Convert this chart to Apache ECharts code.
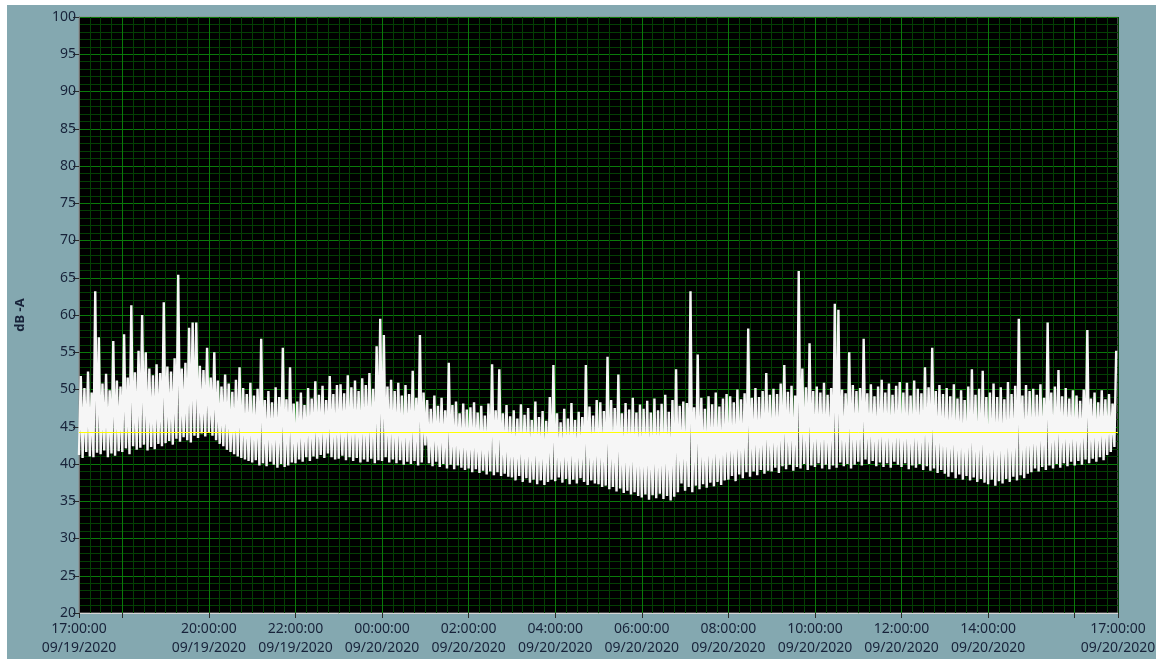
<!DOCTYPE html>
<html>
<head>
<meta charset="utf-8">
<title>dB-A</title>
<script src="https://cdn.jsdelivr.net/npm/echarts@6/dist/echarts.min.js"></script>
<style>
  html, body { margin: 0; padding: 0; background: #fff; }
  #chart { position: absolute; left: 7px; top: 5px; width: 1149px; height: 654px; }
</style>
</head>
<body>
<div id="chart"></div>
<script>
// 5 minute blocks from 17:00 09/19/2020, low and high reading of each block (dB-A)
const loDb = [
  41.2, 40.8, 41.6, 41.0, 40.9, 41.5, 41.3, 41.8, 40.9, 41.4, 41.1, 41.7,
  41.6, 42.1, 41.3, 42.4, 41.9, 42.2, 42.6, 41.8, 42.3, 42.0, 42.7, 42.4,
  42.8, 43.1, 42.6, 43.4, 43.0, 43.6, 43.2, 42.9, 43.8, 43.5, 44.1, 43.7,
  44.3, 43.8, 43.2, 42.7, 42.4, 41.9, 41.6, 41.3, 41.0, 40.8, 40.6, 40.4,
  40.2, 40.5, 39.8, 40.1, 39.7, 40.3, 39.9, 39.5, 40.0, 39.6, 39.8, 40.2,
  40.1, 40.6, 40.3, 40.9, 40.4, 41.0, 40.7, 41.2, 40.8, 41.4, 40.9, 40.6,
  40.7, 41.1, 40.5, 40.9, 40.4, 40.8, 40.2, 40.6, 40.3, 40.7, 40.1, 40.5,
  40.4, 40.9, 40.2, 40.6, 40.1, 40.5, 39.9, 40.3, 40.0, 40.4, 39.8, 40.2,
  42.5, 40.1, 39.7, 40.3, 39.6, 40.0, 39.4, 39.9, 39.3, 39.8, 39.5, 39.2,
  39.4, 38.9, 39.3, 38.8, 39.1, 38.6, 39.0, 38.5, 38.9, 38.4, 38.7, 38.3,
  38.2, 37.8, 38.4, 37.6, 38.1, 37.5, 37.9, 37.3, 37.8, 37.2, 37.6, 37.9,
  37.7, 38.2, 37.5, 38.0, 37.3, 37.9, 37.4, 38.1, 37.6, 37.2, 37.8, 37.4,
  37.3, 36.9, 37.1, 36.6, 36.9, 36.3, 36.7, 36.1, 36.4, 35.9, 36.2, 35.7,
  35.5, 35.9, 35.2, 35.8, 35.4, 36.0, 35.3, 35.7, 35.1, 35.6, 36.2, 37.4,
  36.4, 36.9, 36.2, 37.1, 36.6, 37.3, 36.8, 37.5, 37.0, 37.6, 37.2, 37.8,
  37.9, 38.4, 37.7, 38.6, 38.1, 38.9, 38.3, 39.0, 38.5, 39.2, 38.7, 39.1,
  39.0, 39.5, 38.8, 39.7, 39.3, 39.9, 39.1, 39.6, 39.4, 40.0, 39.2, 39.8,
  39.6, 40.1, 39.4, 39.9, 39.3, 39.8, 39.5, 40.2, 39.7, 40.0, 39.4, 39.9,
  40.3, 39.8, 40.6, 40.0, 40.4, 39.7, 40.2, 39.6, 40.1, 39.5, 40.3, 39.9,
  39.6, 40.1, 39.3, 39.8, 39.5, 40.0, 39.2, 39.7, 39.1, 39.4, 38.8, 39.2,
  38.7, 38.3, 38.9, 38.1, 38.6, 37.9, 38.4, 37.8, 38.2, 37.6, 38.0, 37.5,
  37.3, 37.9, 37.1, 37.7, 37.4, 38.0, 37.6, 38.3, 37.8, 38.5, 38.1, 38.7,
  38.9, 39.4, 39.0, 39.6, 39.2, 39.8, 39.4, 40.0, 39.5, 40.1, 39.7, 40.3,
  39.8, 40.4, 39.9, 40.6, 40.1, 40.7, 40.3, 40.9, 40.5, 41.2, 41.6, 42.3
]
const hiDb = [
  51.8, 50.2, 52.4, 49.6, 63.2, 57.0, 50.8, 52.1, 49.9, 56.5, 51.2, 50.4,
  57.4, 51.6, 61.3, 52.3, 55.2, 60.0, 55.0, 52.8, 51.9, 53.4, 52.2, 61.7,
  53.1, 52.4, 54.2, 65.4, 52.8, 53.6, 58.3, 59.0, 59.0, 53.2, 52.6, 55.6,
  51.6, 55.0, 51.2, 50.4, 52.0, 50.8, 49.7, 51.3, 53.0, 50.2, 49.4, 50.9,
  49.2, 50.1, 56.8, 48.6, 49.8, 48.3, 50.3, 49.0, 55.6, 48.7, 53.0, 48.1,
  48.4, 49.6, 47.9, 50.2, 48.8, 51.1, 49.3, 50.5, 48.6, 51.8, 49.4, 50.6,
  50.7, 49.5, 51.9, 50.3, 51.2, 49.8, 51.5, 50.6, 52.2, 50.1, 55.8, 59.5,
  57.3, 50.4, 51.3, 49.8, 50.9, 49.2, 50.6, 49.4, 52.5, 48.9, 57.3, 49.6,
  48.6, 47.4, 49.2, 47.8, 48.9, 47.2, 53.6, 47.9, 48.4, 46.8, 48.1, 47.3,
  47.6, 48.3, 46.9, 47.8, 46.5, 48.1, 53.4, 47.2, 52.7, 46.8, 47.9, 46.4,
  47.2, 46.1, 48.0, 46.6, 47.5, 45.9, 48.4, 46.3, 47.1, 45.8, 49.0, 53.3,
  46.8, 45.6, 47.4, 46.1, 48.2, 45.9, 47.0, 46.3, 53.3, 47.7, 46.5, 48.6,
  48.3, 47.1, 54.4, 48.6, 47.5, 52.0, 46.8, 48.2, 47.3, 48.9, 46.9, 48.0,
  47.4, 48.5, 46.9, 48.8, 47.2, 48.1, 49.3, 47.0, 48.6, 52.7, 47.8, 48.4,
  48.2, 63.2, 47.6, 54.7, 48.9, 47.4, 49.1, 48.0, 49.6, 47.7, 48.8, 49.4,
  49.1, 48.3, 50.0, 48.7, 49.5, 58.2, 48.9, 50.2, 49.0, 49.8, 52.2, 49.3,
  50.1, 49.4, 50.8, 53.3, 49.7, 50.5, 49.2, 65.9, 52.8, 50.3, 56.2, 49.8,
  50.4, 49.6, 50.9, 49.3, 50.2, 61.5, 60.7, 50.0, 49.5, 55.0, 50.6, 49.8,
  50.2, 56.8, 49.5, 50.7, 49.1, 50.4, 51.3, 49.6, 50.8, 49.3, 50.5, 51.0,
  49.6, 50.9, 49.2, 51.2, 50.1, 49.5, 53.0, 50.3, 55.6, 49.8, 50.6, 49.4,
  50.2, 49.1, 50.7, 48.8, 49.9, 48.6, 50.4, 52.7, 49.3, 50.1, 52.5, 49.0,
  49.6, 50.8, 49.0, 50.3, 48.7, 51.0, 49.4, 50.5, 59.5, 49.2, 50.6, 49.8,
  50.1, 49.3, 50.7, 48.9, 59.0, 49.6, 50.4, 52.6, 49.1, 50.2, 48.8, 49.9,
  49.2, 48.5, 50.0, 58.0, 48.8, 49.6, 48.3, 49.9, 48.7, 49.4, 48.1, 55.2
]
// yellow reference level
const avgDb = 44.2

// hourly ticks along the x axis, 17:00 -> 17:00
const xHours = [
  '17:00:00', '18:00:00', '19:00:00', '20:00:00', '21:00:00', '22:00:00', '23:00:00',
  '00:00:00', '01:00:00', '02:00:00', '03:00:00', '04:00:00', '05:00:00', '06:00:00',
  '07:00:00', '08:00:00', '09:00:00', '10:00:00', '11:00:00', '12:00:00', '13:00:00',
  '14:00:00', '15:00:00', '16:00:00', '17:00:00'
]
const xDays = ['09/19/2020', '09/20/2020']
const tickShown = [0, 1, 3, 5, 7, 9, 11, 13, 15, 17, 19, 21, 23, 24]
const labelShown = [0, 3, 5, 7, 9, 11, 13, 15, 17, 19, 21, 24]

const startMs = Date.UTC(2020, 8, 19, 17, 0, 0)
const endMs = Date.UTC(2020, 8, 20, 17, 0, 0)
const stepMs = 5 * 60 * 1000

const gridMinor = '#043f04'
const gridMajor = '#0a7a0a'
const textColor = '#18233a'

// low then high for each block, so the trace zig-zags like the raw samples
const trace = []
loDb.forEach((lo, i) => {
  trace.push([startMs + i * stepMs, lo])
  trace.push([startMs + i * stepMs + stepMs / 2, hiDb[i]])
})

const chart = echarts.init(document.getElementById('chart'))

chart.setOption({
  animation: false,
  backgroundColor: '#84a8b0',
  textStyle: { fontFamily: 'Noto Sans' },
  grid: {
    left: 72,
    top: 12,
    right: 38,
    bottom: 46,
    show: true,
    backgroundColor: '#000',
    borderColor: '#8c8c8c',
    borderWidth: 1,
    outerBoundsMode: 'none'
  },
  xAxis: [
    {
      // fine 15 min grid
      type: 'value',
      min: startMs,
      max: endMs,
      interval: 15 * 60 * 1000,
      axisLine: { show: false },
      axisTick: { show: false },
      axisLabel: { show: false },
      splitLine: { show: true, lineStyle: { color: gridMinor, width: 1 } }
    },
    {
      type: 'category',
      data: xHours,
      boundaryGap: false,
      position: 'bottom',
      axisLine: { show: true, lineStyle: { color: '#d6d6d6', width: 1 } },
      axisTick: {
        show: true,
        length: 5,
        interval: (i) => tickShown.includes(i),
        lineStyle: { color: '#2a2a2a' }
      },
      axisLabel: {
        interval: (i) => labelShown.includes(i),
        formatter: (v, i) => v + '\n' + (i < 7 ? xDays[0] : xDays[1]),
        color: textColor,
        fontSize: 14,
        lineHeight: 19,
        margin: 7
      },
      splitLine: {
        show: true,
        interval: (i) => i > 0 && i < 24 && tickShown.includes(i),
        lineStyle: { color: gridMajor, width: 1 }
      }
    }
  ],
  yAxis: {
    type: 'value',
    min: 20,
    max: 100,
    interval: 5,
    name: 'dB -A',
    nameLocation: 'middle',
    nameGap: 52,
    nameTextStyle: { color: textColor, fontWeight: 'bold', fontSize: 13 },
    axisLine: { show: true, lineStyle: { color: '#6e6e6e' } },
    axisTick: { show: true, length: 6, lineStyle: { color: '#2a2a2a' } },
    axisLabel: { color: textColor, fontSize: 14, margin: 3 },
    splitLine: { show: true, lineStyle: { color: gridMajor, width: 1 } },
    minorTick: { show: false, splitNumber: 5 },
    minorSplitLine: { show: true, lineStyle: { color: gridMinor, width: 1 } }
  },
  series: [
    {
      name: 'dB-A',
      type: 'line',
      xAxisIndex: 0,
      data: trace,
      showSymbol: false,
      symbol: 'none',
      silent: true,
      lineStyle: { color: '#f6f6f6', width: 2.4 },
      markLine: {
        silent: true,
        symbol: 'none',
        label: { show: false },
        lineStyle: { color: '#ffff00', width: 1, type: 'solid' },
        data: [{ yAxis: avgDb }]
      }
    }
  ]
})
</script>
</body>
</html>
